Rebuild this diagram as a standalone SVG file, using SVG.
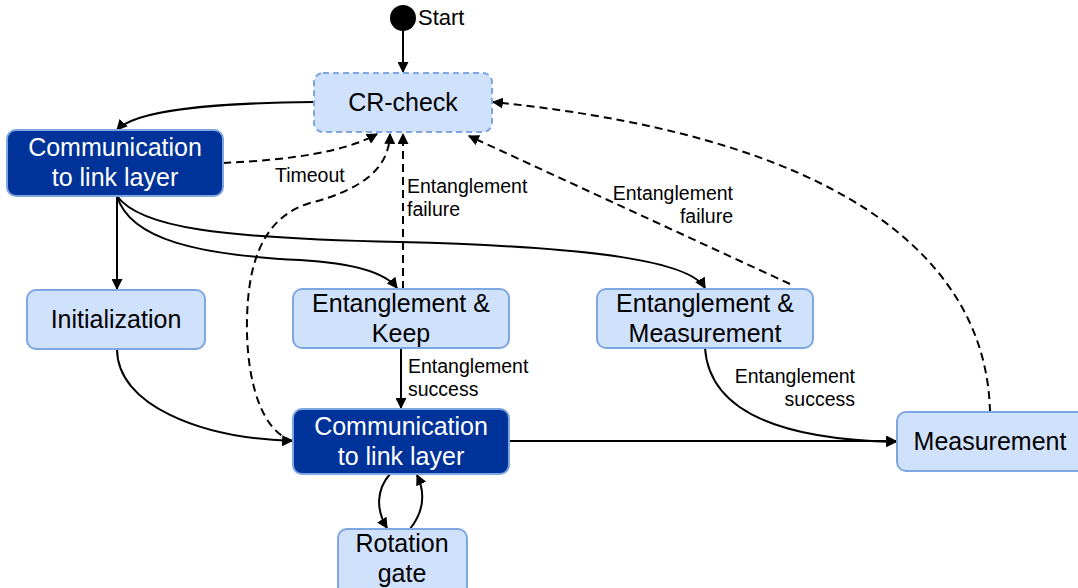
<svg xmlns="http://www.w3.org/2000/svg" width="1078" height="588" viewBox="0 0 1078 588">
  <style>
    .node { fill: #d0e1fc; stroke: #7ea6e0; stroke-width: 2; }
    .dark { fill: #003399; stroke: #7ea6e0; stroke-width: 2; }
    .ntext { font-family: "Liberation Sans", Arial, sans-serif; font-size: 25px; fill: #000; text-anchor: middle; }
    .wtext { font-family: "Liberation Sans", Arial, sans-serif; font-size: 25px; fill: #fff; text-anchor: middle; }
    .label { font-family: "Liberation Sans", Arial, sans-serif; font-size: 19.5px; fill: #000; }
    .edge { fill: none; stroke: #000; stroke-width: 2; marker-end: url(#arrow); }
    .dash { stroke-dasharray: 8 5; }
  </style>
  <defs>
    <marker id="arrow" viewBox="0 0 10 10" refX="9" refY="5" markerWidth="11" markerHeight="11" markerUnits="userSpaceOnUse" orient="auto">
      <path d="M0,0 L10,5 L0,10 Z" fill="#000"/>
    </marker>
  </defs>

  <rect width="1078" height="588" fill="#fff"/>

  <!-- connectors -->
  <g id="connectors">
    <path class="edge" d="M403,31 L403,72"/>
    <path class="edge" d="M314,102 C210,103 135,110 117,130"/>
    <path class="edge dash" d="M223,163 C290,160 345,152 377,134"/>
    <path class="edge dash" d="M293,441 C255,430 243,360 248,300 C252,250 270,215 310,203 C360,190 389,170 390,134"/>
    <path class="edge dash" d="M403,289 L403,134"/>
    <path class="edge dash" d="M790,284 L469,136"/>
    <path class="edge dash" d="M990,412 C987,275 870,140 493,102"/>
    <path class="edge" d="M117,196 L117,289"/>
    <path class="edge" d="M117,196 C130,240 200,255 300,260 C350,263 385,272 397,288"/>
    <path class="edge" d="M117,196 C140,228 220,238 400,242 C600,247 690,262 705,288"/>
    <path class="edge" d="M401,348 L401,408"/>
    <path class="edge" d="M117,349 C117,405 200,438 292,441"/>
    <path class="edge" d="M705,348 C710,420 800,440 896,442"/>
    <path class="edge" d="M509,441 L896,441"/>
    <path class="edge" d="M390,474 C376,490 376,510 387,528"/>
    <path class="edge" d="M410,529 C425,510 425,492 417,475"/>
    <text class="label" x="275" y="182">Timeout</text>
    <text class="label" x="407" y="193">Entanglement</text>
    <text class="label" x="407" y="216">failure</text>
    <text class="label" x="733" y="200" text-anchor="end">Entanglement</text>
    <text class="label" x="733" y="223" text-anchor="end">failure</text>
    <text class="label" x="408" y="373">Entanglement</text>
    <text class="label" x="408" y="396">success</text>
    <text class="label" x="855" y="383" text-anchor="end">Entanglement</text>
    <text class="label" x="855" y="406" text-anchor="end">success</text>
  </g>

  <g id="start">
    <circle cx="403" cy="18" r="13" fill="#000"/>
    <text x="418" y="25" font-family="Liberation Sans, Arial, sans-serif" font-size="22" fill="#000">Start</text>
  </g>

  <g id="cr-check">
    <rect class="node" x="314" y="73" width="178" height="59" rx="9" stroke-dasharray="6 4"/>
    <text class="ntext" x="403" y="111">CR-check</text>
  </g>

  <g id="comm-top">
    <rect class="dark" x="7" y="130" width="216" height="66" rx="9"/>
    <text class="wtext" x="115" y="156">Communication</text>
    <text class="wtext" x="115" y="186">to link layer</text>
  </g>

  <g id="initialization">
    <rect class="node" x="27" y="290" width="178" height="59" rx="9"/>
    <text class="ntext" x="116" y="328">Initialization</text>
  </g>

  <g id="ent-keep">
    <rect class="node" x="293" y="289" width="216" height="59" rx="9"/>
    <text class="ntext" x="401" y="312">Entanglement &amp;</text>
    <text class="ntext" x="401" y="342">Keep</text>
  </g>

  <g id="ent-meas">
    <rect class="node" x="597" y="289" width="216" height="59" rx="9"/>
    <text class="ntext" x="705" y="312">Entanglement &amp;</text>
    <text class="ntext" x="705" y="342">Measurement</text>
  </g>

  <g id="comm-bottom">
    <rect class="dark" x="293" y="409" width="216" height="65" rx="9"/>
    <text class="wtext" x="401" y="435">Communication</text>
    <text class="wtext" x="401" y="465">to link layer</text>
  </g>

  <g id="measurement">
    <rect class="node" x="897" y="412" width="190" height="59" rx="9"/>
    <text class="ntext" x="990" y="450">Measurement</text>
  </g>

  <g id="rotation-gate">
    <rect class="node" x="338" y="529" width="129" height="66" rx="9"/>
    <text class="ntext" x="402" y="552">Rotation</text>
    <text class="ntext" x="402" y="582">gate</text>
  </g>
</svg>
